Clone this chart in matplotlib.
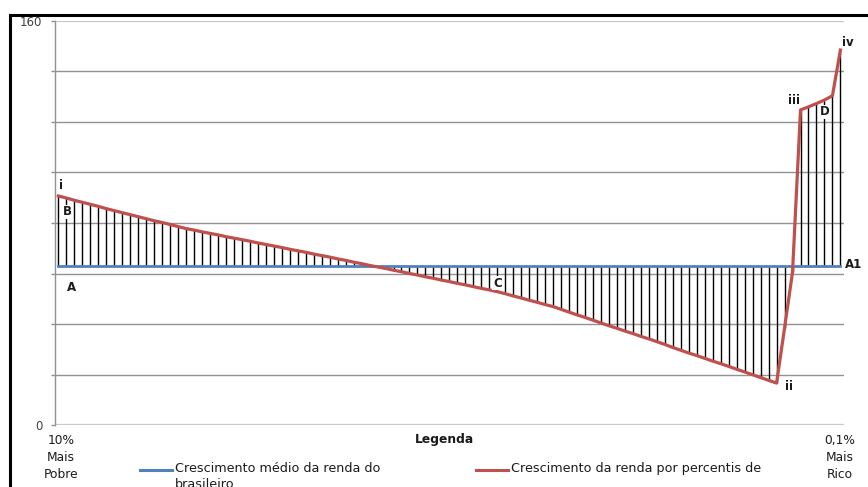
import numpy as np
import matplotlib
matplotlib.use("Agg")
import matplotlib.pyplot as plt
from matplotlib.lines import Line2D

# income growth by percentile (red) vs average growth (blue)
growth_pct = [
    90.7, 89.9, 89.0, 88.2, 87.4, 86.6, 85.7, 84.9, 84.1, 83.3,
    82.5, 81.7, 80.9, 80.2, 79.4, 78.6, 77.8, 77.2, 76.5, 75.9,
    75.3, 74.6, 74.0, 73.4, 72.8, 72.1, 71.5, 70.9, 70.3, 69.6,
    69.0, 68.4, 67.7, 67.1, 66.5, 65.8, 65.2, 64.5, 63.9, 63.2,
    62.6, 62.0, 61.3, 60.7, 60.0, 59.4, 58.7, 58.1, 57.4, 56.8,
    56.1, 55.5, 54.8, 54.1, 53.5, 52.8, 52.0, 51.1, 50.3, 49.4,
    48.6, 47.7, 46.9, 45.8, 44.7, 43.6, 42.6, 41.5, 40.4, 39.3,
    38.3, 37.2, 36.2, 35.1, 34.1, 33.0, 31.9, 30.7, 29.6, 28.5,
    27.5, 26.4, 25.3, 24.3, 23.2, 22.1, 21.0, 19.9, 18.8, 17.7,
    16.6, 38.4, 60.5, 124.8, 126.0, 127.3, 128.7, 130.4, 148.5,
]
avg_growth = [63.0] * len(growth_pct)
yticks = [0, 20, 40, 60, 80, 100, 120, 140, 160]
ytick_labels = ["0", "", "", "", "", "", "", "", "160"]

# point labels: (text, x index, y value, white box)
marks = [
    ("i", 0.35, 95.0, False),
    ("B", 1.1, 84.4, True),
    ("A", 1.7, 54.3, False),
    ("C", 55.0, 56.2, True),
    ("ii", 91.5, 15.4, False),
    ("iii", 92.2, 128.4, False),
    ("D", 96.1, 124.0, True),
    ("iv", 98.9, 151.5, False),
    ("A1", 99.7, 63.4, False),
]

W, H = 868, 487
fig = plt.figure(figsize=(W / 100, H / 100), dpi=100)


def px(x, y):
    return x / W, 1 - y / H


ax = fig.add_axes([55 / W, 1 - 425 / H, (844 - 55) / W, (425 - 21) / H])
x = np.arange(len(growth_pct))

for v in yticks:
    if v in (0, 160):
        ax.axhline(v, color="#c8c8c8", lw=1.6, zorder=1)
    else:
        ax.axhline(v, color="#929292", lw=1.0, zorder=1)

ax.vlines(x, avg_growth, growth_pct, color="black", lw=1.0, zorder=2)
ax.plot(x, avg_growth, color="#4f81bd", lw=2.0, zorder=3)
ax.plot(x, growth_pct, color="#c0504d", lw=2.3, zorder=4)

for t, mx, my, box in marks:
    kw = {}
    if box:
        kw["bbox"] = dict(facecolor="white", edgecolor="none", pad=0.5)
    ax.text(mx, my, t, ha="center", va="center", fontsize=8.5, fontweight="bold",
            color="#1a1a1a", zorder=5, clip_on=False, **kw)

ax.set_xlim(-0.42, 98.45)
ax.set_ylim(0, 160)
ax.set_yticks(yticks)
ax.set_yticklabels(ytick_labels)
ax.set_xticks([])
ax.tick_params(axis="y", length=3, width=1, color="#929292", pad=6,
               labelsize=8.5, labelcolor="#404040")
for s in ["top", "right", "bottom"]:
    ax.spines[s].set_visible(False)
ax.spines["left"].set_color("#929292")
ax.spines["left"].set_linewidth(1.0)

# category labels under the axis
fig.text(*px(61, 434), "10%\nMais\nPobre", ha="center", va="top", fontsize=8.8,
         color="#1a1a1a", linespacing=1.4)
fig.text(*px(840, 434), "0,1%\nMais\nRico", ha="center", va="top", fontsize=8.8,
         color="#1a1a1a", linespacing=1.4)

# legend
fig.text(*px(445, 440), "Legenda", ha="center", va="center", fontsize=8.8,
         fontweight="bold", color="#1a1a1a")
fig.add_artist(Line2D([140 / W, 172 / W], [1 - 470 / H] * 2, color="#4f81bd", lw=2.2))
fig.text(*px(175, 462), "Crescimento médio da renda do\nbrasileiro", ha="left", va="top",
         fontsize=9.2, color="#1a1a1a", linespacing=1.35)
fig.add_artist(Line2D([476 / W, 508 / W], [1 - 470 / H] * 2, color="#c0504d", lw=2.2))
fig.text(*px(511, 462), "Crescimento da renda por percentis de", ha="left", va="top",
         fontsize=9.2, color="#1a1a1a")

# black frame, cut at right and bottom
fig.add_artist(Line2D([10 / W, 1.0], [1 - 15 / H] * 2, color="black", lw=2.2))
fig.add_artist(Line2D([10 / W] * 2, [1 - 15 / H, 0.0], color="black", lw=2.2))

fig.savefig("out.png", dpi=100)
